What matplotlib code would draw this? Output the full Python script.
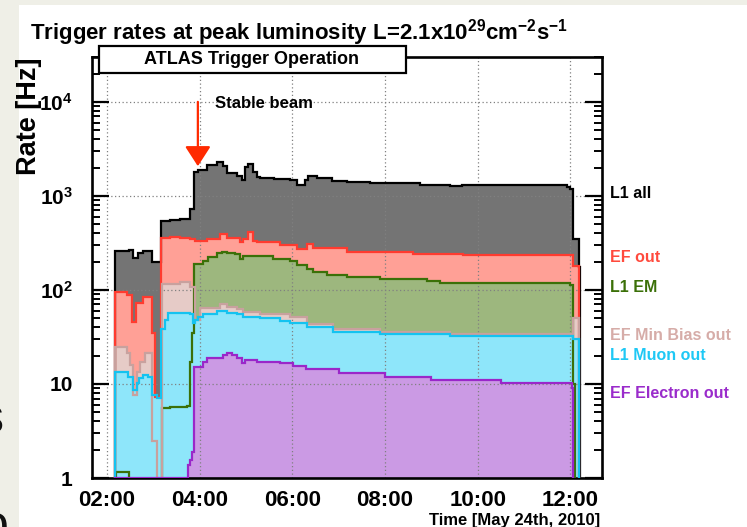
import matplotlib
matplotlib.use("Agg")
import matplotlib.pyplot as plt
from matplotlib.patches import Rectangle
from matplotlib.ticker import FixedLocator, FixedFormatter, LogLocator, NullFormatter

plt.rcParams['font.family'] = ['Liberation Sans', 'DejaVu Sans']
plt.rcParams['font.weight'] = 'bold'
plt.rcParams['mathtext.fontset'] = 'custom'
plt.rcParams['mathtext.rm'] = 'Liberation Sans:bold'
plt.rcParams['mathtext.bf'] = 'Liberation Sans:bold'
plt.rcParams['mathtext.default'] = 'bf'

# ---- trigger rates (Hz), step histograms: bin edges in hours, one value per bin ----
l1_all_t = [2.17, 2.47, 2.56, 2.67, 2.78, 2.97, 3.17, 3.36, 3.58, 3.79, 3.88, 3.96,
            4.16, 4.37, 4.50, 4.59, 4.81, 4.91, 4.98, 5.04, 5.15, 5.24, 5.30, 5.60,
            5.95, 6.10, 6.27, 6.34, 6.53, 6.85, 7.18, 7.67, 8.75, 9.40, 9.66, 11.93,
            11.99, 12.05, 12.18, 12.21]
l1_all_v = [257, 268, 221, 250, 257, 200, 540, 555, 565, 730, 1780, 1900,
            2120, 2280, 2080, 1740, 1620, 1460, 2020, 2200, 1780, 1590, 1560, 1510,
            1470, 1320, 1460, 1620, 1560, 1450, 1400, 1370, 1300, 1260, 1320, 1240,
            1170, 345, 174]

ef_out_t = [2.17, 2.43, 2.54, 2.62, 2.78, 2.97, 3.04, 3.17, 3.36, 3.58, 3.79, 3.90,
            4.16, 4.44, 4.59, 4.87, 4.93, 5.04, 5.15, 5.24, 5.73, 6.10, 6.32, 6.44,
            7.18, 8.60, 9.68, 12.05, 12.18]
ef_out_v = [96, 89, 46, 72, 85, 35, 7.3, 360, 370, 360, 345, 330,
            345, 390, 360, 320, 345, 410, 330, 320, 300, 275, 305, 280,
            252, 240, 233, 178]

l1_em_t = [2.19, 2.48, 3.19, 3.36, 3.73, 3.79, 3.83, 3.88, 4.07, 4.18, 4.37, 4.48,
           4.59, 4.76, 4.87, 4.93, 5.58, 5.95, 6.10, 6.32, 6.44, 6.75, 7.18, 7.89,
           8.90, 9.18, 11.99, 12.05, 12.10]
l1_em_v = [1.15, 0.001, 5.6, 5.7, 5.9, 17, 35, 190, 205, 225, 250,
           255, 250, 240, 215, 230, 215, 205, 185, 165, 155, 145, 137,
           130, 123, 119, 114, 10]

ef_minbias_t = [2.17, 2.43, 2.50, 2.56, 2.65, 2.71, 2.82, 2.97, 3.08, 3.19, 3.58, 3.79,
                3.90, 4.01, 4.44, 4.59, 4.80, 4.93, 5.30, 5.95, 6.32, 6.88, 7.89, 9.40,
                12.05, 12.18]
ef_minbias_v = [25, 21.5, 16, 7.7, 13.5, 17, 21.5, 2.5, 0.001, 117, 120, 108,
                48, 64, 70, 66, 62, 58, 55, 52, 43, 38, 36, 34, 50]

l1_muon_t = [2.17, 2.45, 2.56, 2.65, 2.69, 2.78, 2.89, 2.97, 3.08, 3.17, 3.25, 3.32,
             3.79, 3.86, 3.90, 3.96, 4.07, 4.37, 4.59, 4.81, 4.93, 5.30, 5.73, 5.95,
             6.32, 6.88, 7.89, 9.40, 12.05, 12.18]
l1_muon_v = [13.5, 12, 8.7, 10.3, 11.6, 12.5, 12, 7.7, 7.1, 38, 48,
             57, 55, 45, 48, 52, 56, 59, 57, 55, 52, 50, 47,
             45, 40, 36, 34, 32, 30]

ef_electron_t = [2.17, 3.75, 3.80, 3.83, 3.88, 4.07, 4.16, 4.50, 4.59, 4.70, 4.81,
                 4.91, 4.98, 5.24, 5.73, 6.01, 6.30, 7.00, 8.00, 9.00, 10.50,
                 12.03, 12.05]
ef_electron_v = [1.0, 1.38, 1.56, 1.9, 15.2, 17.2, 19, 20.5, 21.5, 20.5,
                 19, 16.8, 18, 17.2, 16.8, 15.5, 14.5, 13, 12, 11,
                 10.2, 9.1]

series_names = ['L1 all', 'EF out', 'L1 EM', 'EF Min Bias out', 'L1 Muon out', 'EF Electron out']
fill_colors = ['#747474', '#ffa096', '#9db77e', '#e6cbc7', '#8ee6fa', '#cb9ae4']
line_colors = ['#000000', '#ff3b2f', '#3b7008', '#c8a19e', '#14c3f0', '#9a27c9']
label_colors = ['#000000', '#ff4a3d', '#3b7008', '#d6aca8', '#1ec8f5', '#9a2ccb']
label_y_px = [193, 257, 288, 335, 355, 393]

x_ticks = [2, 4, 6, 8, 10, 12]
x_labels = ['02:00', '04:00', '06:00', '08:00', '10:00', '12:00']
y_ticks = [1, 10, 100, 1000, 10000]
y_labels = ['1', '10', '10$^{2}$', '10$^{3}$', '10$^{4}$']

stable_beam_time = 3.96
stable_beam_tip = 2070

W, H = 747, 527
fig = plt.figure(figsize=(W / 100, H / 100), dpi=100)
fig.patch.set_facecolor('white')


def fx(px):
    return px / W


def fy(py):
    return 1 - py / H


# slide margin strips
beige = '#efefe7'
fig.add_artist(Rectangle((0, 0), fx(19), 1, transform=fig.transFigure,
                         facecolor=beige, edgecolor='none', zorder=0))
fig.add_artist(Rectangle((0, fy(5)), 1, 5 / H, transform=fig.transFigure,
                         facecolor=beige, edgecolor='none', zorder=0))
fig.text(fx(4), fy(433), 's', ha='right', va='baseline', fontsize=36,
         fontweight='normal', color='#111111')
fig.text(fx(9), fy(540), 'o', ha='right', va='baseline', fontsize=36,
         fontweight='normal', color='#111111')

ax = fig.add_axes([fx(92), fy(478), fx(602) - fx(92), fy(57) - fy(478)])
ax.set_yscale('log')
ax.set_xlim(1.676, 12.68)
ax.set_ylim(1, 3e4)
ax.set_facecolor('white')

data = [(l1_all_t, l1_all_v), (ef_out_t, ef_out_v), (l1_em_t, l1_em_v),
        (ef_minbias_t, ef_minbias_v), (l1_muon_t, l1_muon_v),
        (ef_electron_t, ef_electron_v)]

# filled areas first, overlaid in order
for (t, v), fc in zip(data, fill_colors):
    ax.stairs(v, t, baseline=1e-3, fill=True, facecolor=fc, edgecolor='none',
              linewidth=0, zorder=1)

# dotted grid shows through the fills
for xt in x_ticks:
    ax.axvline(xt, color='#808080', ls=(0, (1, 2)), lw=0.9, zorder=1.5)
for yt in y_ticks[1:]:
    ax.axhline(yt, color='#808080', ls=(0, (1, 2)), lw=0.9, zorder=1.5)

# outlines on top
for (t, v), lc in zip(data, line_colors):
    ax.stairs(v, t, baseline=1e-3, fill=False, color=lc, linewidth=1.6, zorder=3)

for sp in ax.spines.values():
    sp.set_linewidth(1.9)
    sp.set_zorder(2.5)

ax.yaxis.set_major_locator(FixedLocator(y_ticks))
ax.yaxis.set_major_formatter(FixedFormatter(y_labels))
ax.yaxis.set_minor_locator(LogLocator(base=10, subs=range(2, 10), numticks=20))
ax.yaxis.set_minor_formatter(NullFormatter())
ax.tick_params(axis='y', which='major', direction='in', length=12, width=1.6,
               left=True, right=True, labelsize=15, pad=14)
ax.tick_params(axis='y', which='minor', direction='in', length=5.8, width=1.4,
               left=True, right=True)
ax.set_xticks(x_ticks)
ax.set_xticklabels(x_labels)
ax.tick_params(axis='x', length=0, labelsize=16, pad=8.5)
for lab in ax.get_xticklabels() + ax.get_yticklabels():
    lab.set_fontweight('bold')

# stable beam marker
ax.annotate('', xy=(stable_beam_time, stable_beam_tip), xytext=(stable_beam_time, 1e4),
            arrowprops=dict(arrowstyle='-|>,head_width=0.79,head_length=1.22',
                            mutation_scale=10, color='#ff2a00', lw=1.6,
                            shrinkA=0, shrinkB=0), zorder=4)
fig.text(fx(215), fy(104), 'Stable beam', ha='left', va='center', fontsize=12)

# titles and axis labels
fig.text(fx(30), fy(40), 'Trigger rates at peak luminosity L=2.1x10$^{29}$cm$^{-2}$s$^{-1}$',
         ha='left', va='baseline', fontsize=16)
fig.text(fx(29), fy(116), 'Rate [Hz]', rotation=90, ha='center', va='center', fontsize=19.5)
fig.text(fx(600), fy(525), 'Time [May 24th, 2010]', ha='right', va='baseline', fontsize=12)

fig.add_artist(Rectangle((fx(99), fy(73)), fx(406) - fx(99), 27 / H,
                         transform=fig.transFigure, facecolor='white',
                         edgecolor='black', linewidth=1.6, zorder=10))
fig.text(fx(252), fy(60), 'ATLAS Trigger Operation', ha='center', va='center',
         fontsize=13, zorder=11)

for name, col, ypx in zip(series_names, label_colors, label_y_px):
    fig.text(fx(610), fy(ypx), name, ha='left', va='center', fontsize=11.5, color=col)

fig.savefig('out.png', dpi=100)
